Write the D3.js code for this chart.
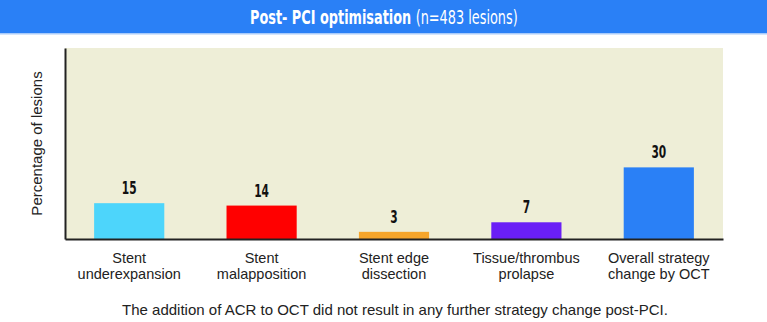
<!DOCTYPE html>
<html>
<head>
<meta charset="utf-8">
<script src="https://cdn.jsdelivr.net/npm/d3@7"></script>
<style>
  body { margin: 0; background: #fff; }
  svg { display: block; }
</style>
</head>
<body>
<svg id="chart" width="767" height="322"></svg>
<script>
// data
var categories = [["Stent", "underexpansion"], ["Stent", "malapposition"], ["Stent edge", "dissection"], ["Tissue/thrombus", "prolapse"], ["Overall strategy", "change by OCT"]];
var values = [15, 14, 3, 7, 30];
var barColors = ["#4dd5fb", "#ff0000", "#f6a52a", "#6a1ff6", "#2a80f6"];

var svg = d3.select("#chart"),
    W = +svg.attr("width"),
    margin = {top: 48, right: 44, bottom: 83, left: 65},
    width = W - margin.left - margin.right,
    height = +svg.attr("height") - margin.top - margin.bottom;

var condensed = "'DejaVu Sans Condensed', 'DejaVu Sans', sans-serif";
var plain = "'Liberation Sans', Arial, sans-serif";

// header band
svg.append("rect").attr("x", 0).attr("y", 0).attr("width", W).attr("height", 33).attr("fill", "#2a80f6");
svg.append("rect").attr("x", 0).attr("y", 33).attr("width", W).attr("height", 1.5).attr("fill", "#a9cbfa");

// title squeezed to the width of the condensed original (~268px)
var titleG = svg.append("g");
var title = titleG.append("text")
    .attr("x", 0).attr("y", 0)
    .attr("fill", "#fff")
    .style("font-family", condensed)
    .style("font-size", "19px");
title.append("tspan").style("font-weight", "bold").text("Post- PCI optimisation ");
title.append("tspan").style("font-weight", "normal").text("(n=483 lesions)");
var tw = title.node().getComputedTextLength();
titleG.attr("transform", "translate(250,24) scale(" + (268 / tw) + ",1)");

var g = svg.append("g").attr("transform", "translate(" + margin.left + "," + margin.top + ")");

var x = d3.scaleBand()
    .domain(d3.range(values.length))
    .range([0, width])
    .paddingInner(0.47)
    .paddingOuter(0.22);

var y = d3.scaleLinear().domain([0, 80]).range([height, 0]);

// plot background
g.append("rect").attr("width", width).attr("height", height).attr("fill", "#eeeed7");

g.selectAll(".bar")
    .data(values)
    .enter().append("rect")
    .attr("class", "bar")
    .attr("x", function(d, i) { return x(i); })
    .attr("y", function(d) { return y(d); })
    .attr("width", x.bandwidth())
    .attr("height", function(d) { return height - y(d); })
    .attr("fill", function(d, i) { return barColors[i]; });

g.selectAll(".val")
    .data(values)
    .enter().append("text")
    .attr("class", "val")
    .attr("x", function(d, i) { return x(i) + x.bandwidth() / 2 - String(d).length * 3.7; })
    .attr("y", function(d) { return y(d) - 9; })
    .attr("textLength", function(d) { return String(d).length * 7.4; })
    .attr("lengthAdjust", "spacingAndGlyphs")
    .attr("fill", "#111")
    .style("font-family", condensed)
    .style("font-weight", "bold")
    .style("font-size", "18.5px")
    .text(function(d) { return d; });

// axes lines only
var xAxis = g.append("g")
    .attr("transform", "translate(0," + height + ")")
    .call(d3.axisBottom(x).tickSize(0).tickFormat(""));
xAxis.select(".domain").attr("stroke", "#222").attr("stroke-width", 2);

var yAxis = g.append("g")
    .call(d3.axisLeft(y).tickValues([]).tickSizeOuter(0));
yAxis.select(".domain").attr("stroke", "#222").attr("stroke-width", 2);

// category labels
var labels = g.selectAll(".cat")
    .data(categories)
    .enter().append("text")
    .attr("class", "cat")
    .attr("x", function(d, i) { return x(i) + x.bandwidth() / 2; })
    .attr("y", height + 24)
    .attr("text-anchor", "middle")
    .attr("fill", "#222")
    .style("font-family", plain)
    .style("font-size", "14.5px");
labels.selectAll("tspan")
    .data(function(d) { return d; })
    .enter().append("tspan")
    .attr("x", function() { return this.parentNode.getAttribute("x"); })
    .attr("dy", function(d, i) { return i ? 16 : 0; })
    .text(function(d) { return d; });

// y label
svg.append("text")
    .attr("transform", "translate(42," + (margin.top + height / 2) + ") rotate(-90)")
    .attr("text-anchor", "middle")
    .attr("fill", "#222")
    .style("font-family", plain)
    .style("font-size", "15px")
    .text("Percentage of lesions");

// footnote
svg.append("text")
    .attr("x", 395).attr("y", 315)
    .attr("text-anchor", "middle")
    .attr("fill", "#222")
    .style("font-family", plain)
    .style("font-size", "15px")
    .text("The addition of ACR to OCT did not result in any further strategy change post-PCI.");
</script>
</body>
</html>
